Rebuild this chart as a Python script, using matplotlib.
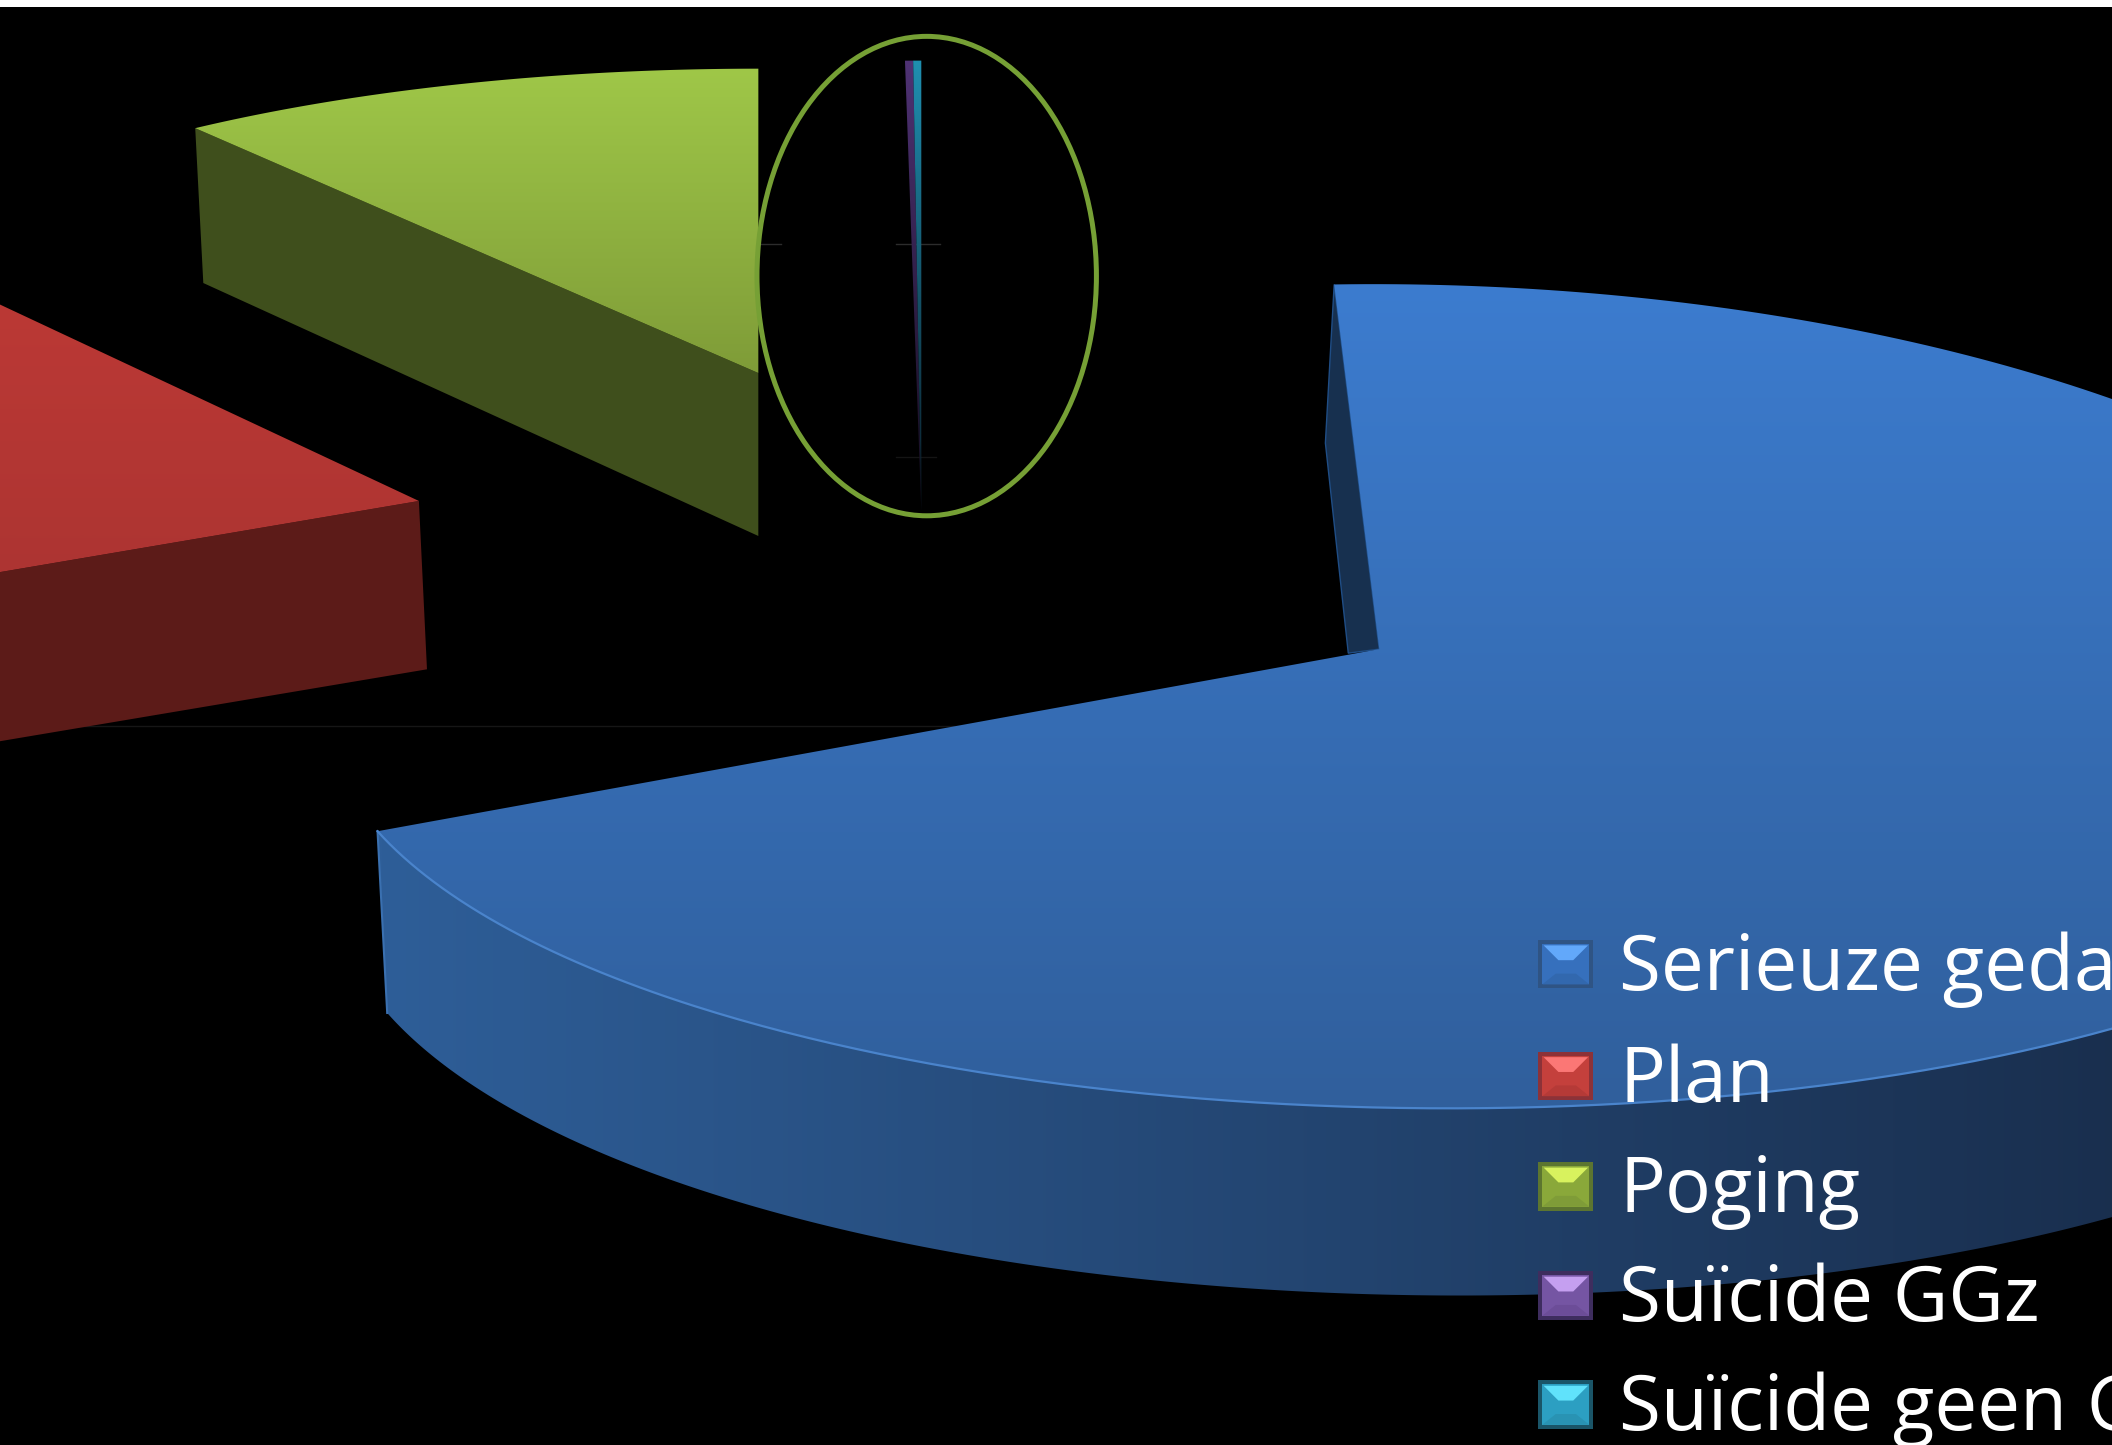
import numpy as np
import matplotlib
matplotlib.use('Agg')
import matplotlib.pyplot as plt
from matplotlib.patches import Polygon, Rectangle, Ellipse
from matplotlib.colors import to_rgb

# aandeel per categorie, in procenten
categories = ['Serieuze gedachten', 'Plan', 'Poging', 'Suïcide GGz', 'Suïcide geen GGz']
shares = [70.3, 19.3, 10.12, 0.14, 0.14]

top_colors = ['#3c7ccf', '#c03a36', '#9fc748', '#4f3274', '#1f8fb0']
bottom_colors = ['#305f9c', '#a83331', '#7f9c38', '#120c1c', '#0a1a25']
wall_colors = ['#2e5e98', '#5c1b18', '#3f4f1c']
swatch_colors = ['#3670bd', '#c4403c', '#8aa83a', '#7555a3', '#2c9fc2']
swatch_light = ['#62a8fa', '#fb7775', '#d8f25e', '#c59ff0', '#60e2fb']
swatch_dark = ['#3268ae', '#b53a37', '#7f9c38', '#6c4d98', '#2993b3']
swatch_edge = ['#2f5484', '#8c3238', '#5c7530', '#3e2d5e', '#1a5568']

W, H = 1568, 1073

# apex, rim centre, radii, rotation, shear and perspective of every exploded slice
slice_layout = [
    dict(apex=(1024, 482), center=(1048, 517), a=809, b=306, rot=-2.2, shear=0.0915, persp=0.05),
    dict(apex=(311, 372), center=(345, 406), a=800, b=310, rot=0, shear=0, persp=0),
    dict(apex=(563, 277), center=(563, 277), a=704, b=226, rot=1.01, shear=0, persp=0),
    dict(apex=(684, 380), center=(684, 380), a=690, b=335, rot=0, shear=0, persp=0),
    dict(apex=(684, 380), center=(684, 380), a=690, b=335, rot=0, shear=0, persp=0),
]


def rim(lay, t0, t1, n=300):
    t = np.radians(np.linspace(t0, t1, n) + lay['rot'])
    c = np.cos(t)
    x = lay['center'][0] + lay['a'] * (1 - lay['persp'] * c) * np.sin(t) - lay['shear'] * lay['b'] * c
    y = lay['center'][1] - lay['b'] * c
    return np.column_stack([x, y])


def gradient_fill(ax, pts, c0, c1, horizontal=False):
    # gradient image clipped to the polygon
    poly = Polygon(pts, closed=True, transform=ax.transData, fc='none', ec='none')
    ax.add_patch(poly)
    x0, x1 = pts[:, 0].min(), pts[:, 0].max()
    y0, y1 = pts[:, 1].min(), pts[:, 1].max()
    f = np.linspace(0, 1, 256)[:, None]
    img = (1 - f) * np.array(to_rgb(c0)) + f * np.array(to_rgb(c1))
    img = img[None, :, :] if horizontal else img[:, None, :]
    im = ax.imshow(img, extent=(x0, x1, y1, y0), aspect='auto', interpolation='bilinear', zorder=2)
    im.set_clip_path(poly)


fig = plt.figure(figsize=(21.12, 14.45), dpi=100, facecolor='white')
ax = fig.add_axes([0, 0, 1, 1])
ax.axis('off')
ax.add_patch(Rectangle((0, 5), W, H, fc='black', ec='none', zorder=0))

edges = np.concatenate([[0], np.cumsum(shares)]) * 3.6

# faint leftovers of the chart frame
ax.plot([0, 780], [539, 539], color='#161616', lw=1, zorder=1)
ax.plot([563, 580], [181, 181], color='#2c2c2c', lw=1, zorder=1)
ax.plot([665, 698], [181, 181], color='#2c2c2c', lw=1, zorder=1)
ax.plot([665, 695], [339, 339], color='#141414', lw=1, zorder=1)

# walls first
blue, red, green = slice_layout[0], slice_layout[1], slice_layout[2]

front = rim(blue, 110, edges[1])
lower = dict(blue, center=(1055, 650), b=312)
shifted = rim(lower, 110, edges[1])
gradient_fill(ax, np.vstack([front, shifted[::-1]]), wall_colors[0], '#15253f', horizontal=True)
ax.plot([front[-1, 0], shifted[-1, 0]], [front[-1, 1], shifted[-1, 1]], color='#3a70b0', lw=1.5, zorder=3)

notch = np.array([rim(blue, 0, 0, 1)[0], blue['apex'], (1001, 485), (984, 329)])
ax.add_patch(Polygon(notch, closed=True, fc='#17304f', ec='#1f4d85', lw=1, zorder=2))

red_rim = rim(red, edges[1], edges[1], 1)[0]
ax.add_patch(Polygon([red['apex'], red_rim, red_rim + [0, 125], np.array(red['apex']) + [6, 125]],
                     closed=True, fc=wall_colors[1], ec='none', zorder=2))

green_rim = rim(green, edges[2], edges[2], 1)[0]
ax.add_patch(Polygon([green['apex'], green_rim, green_rim + [6, 115], np.array(green['apex']) + [0, 121]],
                     closed=True, fc=wall_colors[2], ec='none', zorder=2))

# top faces
for i, lay in enumerate(slice_layout):
    arc = rim(lay, edges[i], edges[i + 1])
    pts = np.vstack([[lay['apex']], arc])
    gradient_fill(ax, pts, top_colors[i], bottom_colors[i])

ax.plot(front[:, 0], front[:, 1], color='#4a84cc', lw=1.6, zorder=3)

# the circled part
ax.add_patch(Ellipse((688, 205), 252, 356, fc='none', ec='#76a035', lw=3.6, zorder=4))

# legend
row_y = [716, 799, 881, 962, 1043]
for i, name in enumerate(categories):
    y = row_y[i]
    ax.add_patch(Rectangle((1142, y - 18), 41, 36, fc=swatch_edge[i], ec='none', zorder=5))
    ax.add_patch(Rectangle((1145, y - 15), 35, 30, fc=swatch_colors[i], ec='none', zorder=5))
    ax.add_patch(Polygon([(1145, y + 15), (1180, y + 15), (1170, y + 7), (1155, y + 7)],
                         closed=True, fc=swatch_dark[i], ec='none', zorder=5))
    ax.add_patch(Polygon([(1146, y - 14), (1179, y - 14), (1168, y - 3), (1157, y - 3)],
                         closed=True, fc=swatch_light[i], ec='none', zorder=5))
    ax.text(1202, y + 19, name, color='white', fontsize=55, family=['Open Sans', 'DejaVu Sans'],
            va='baseline', ha='left', zorder=6, clip_on=True)

ax.set_xlim(0, W)
ax.set_ylim(H, 0)
fig.savefig('out.png', dpi=100, facecolor='white')
